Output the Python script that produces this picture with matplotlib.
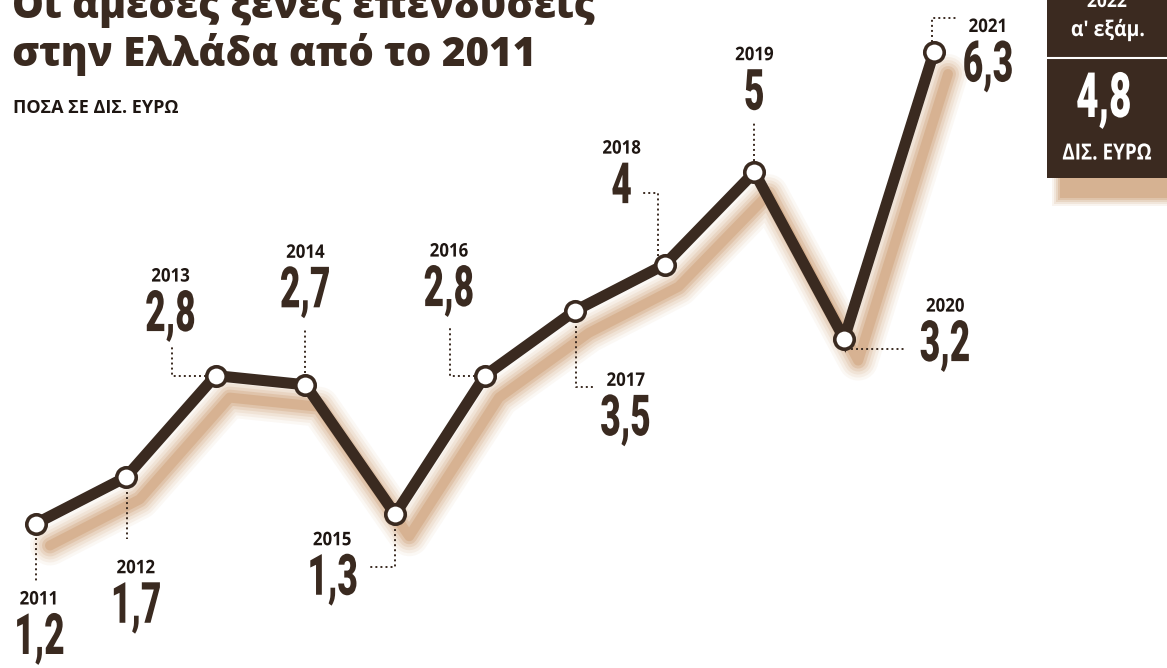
import matplotlib
matplotlib.use("Agg")
import matplotlib.pyplot as plt
import matplotlib.transforms as mtransforms
from matplotlib.patheffects import AbstractPathEffect
from matplotlib.patches import Rectangle
from matplotlib.lines import Line2D
import numpy as np

# data: foreign direct investment in Greece, bn euro
years = [2011, 2012, 2013, 2014, 2015, 2016, 2017, 2018, 2019, 2020, 2021]
values = [1.2, 1.7, 2.8, 2.7, 1.3, 2.8, 3.5, 4.0, 5.0, 3.2, 6.3]
title_1 = "Οι άμεσες ξένες επενδύσεις"
title_2 = "στην Ελλάδα από το 2011"
subtitle = "ΠΟΣΑ ΣΕ ΔΙΣ. ΕΥΡΩ"
box_year = "2022"
box_period = "α' εξάμ."
box_value = "4,8"
box_unit = "ΔΙΣ. ΕΥΡΩ"

# label placement (screen pixels, y down) relative to each marker
value_off = [(3, 115), (10, 130), (-45, -60), (0, -93), (-63, 65), (-36, -85),
             (51, 109), (-43, -77), (0, -78), (101, 7), (54, 14)]
year_gap = 39
leaders = [
    [(0, 14), (0, 57)],
    [(1, 15), (1, 62)],
    [(-10, 0), (-44, 0), (-44, -31)],
    [(0, -7), (0, -57)],
    [(0, 10), (0, 53), (-27, 53)],
    [(-10, 0), (-35, 0), (-35, -49)],
    [(1, 10), (1, 76), (20, 76)],
    [(-7, -9), (-7, -72), (-22, -72)],
    [(0, -11), (0, -51)],
    [(7, 10), (62, 10)],
    [(-2, -10), (-2, -34), (24, -34)],
]

DARK = "#3a2a20"
SHADOW = "#b8763a"
W, H = 1167, 668


class Squeeze(AbstractPathEffect):
    # narrow the glyphs horizontally (condensed look), keeps the text centre
    def __init__(self, sx):
        super().__init__()
        self.sx = sx

    def draw_path(self, renderer, gc, tpath, affine, rgbFace=None):
        ext = tpath.get_extents()
        cx = (ext.x0 + ext.x1) / 2
        t = mtransforms.Affine2D().translate(-cx, 0).scale(self.sx, 1).translate(cx, 0) + affine
        renderer.draw_path(gc, tpath, t, rgbFace)


fig = plt.figure(figsize=(W / 100, H / 100), dpi=100)
fig.patch.set_facecolor("white")
ax = fig.add_axes([0, 0, 1, 1])
ax.set_xlim(2011 - 36 / 89.8, 2011 + (W - 36) / 89.8)
ax.set_ylim(1.2 - 144.5 / 92.45, 1.2 + 523.5 / 92.45)
ax.axis("off")

def fx(x):
    return x / W

def fy(y):
    return 1 - y / H

# soft shadow under the line
sh = mtransforms.offset_copy(ax.transData, fig=fig, x=14, y=-22, units="dots")
for lw, a in [(40, 0.05), (34, 0.07), (28, 0.09), (22, 0.12), (16, 0.17), (10, 0.22)]:
    ax.plot(years, values, color=SHADOW, lw=lw * 0.72, alpha=a,
            solid_capstyle="round", solid_joinstyle="round", transform=sh, zorder=1)

ax.plot(years, values, color=DARK, lw=8, solid_joinstyle="miter", zorder=3)
ax.plot(years, values, ls="none", marker="o", ms=14, mfc="white", mec=DARK,
        mew=2.6, zorder=4)

num_font = ["Roboto", "DejaVu Sans"]
lab_font = ["Open Sans", "DejaVu Sans"]
narrow = [Squeeze(0.62)]

inv = ax.transData.inverted()
for i, (yr, v) in enumerate(zip(years, values)):
    px0, py0 = ax.transData.transform((yr, v))
    # dotted leader
    pts = np.array([inv.transform((px0 + dx, py0 - dy)) for dx, dy in leaders[i]])
    ax.plot(pts[:, 0], pts[:, 1], color=DARK, lw=1.4, ls=(0, (1, 1.6)), zorder=2)
    txt = f"{v:.1f}".replace(".", ",") if v != int(v) else str(int(v))
    dx, dy = value_off[i]
    ax.annotate(txt, (yr, v), xytext=(dx, -dy), textcoords="offset pixels",
                ha="center", va="center", fontsize=41, fontweight="black",
                family=num_font, color=DARK, zorder=5, path_effects=narrow)
    ax.annotate(str(yr), (yr, v), xytext=(dx, -dy + year_gap), textcoords="offset pixels",
                ha="center", va="center", fontsize=13.5, fontweight="bold",
                family=lab_font, color="#1e1612", zorder=5, path_effects=[Squeeze(0.9)])

# title and subtitle
fig.text(fx(12), fy(18), title_1, fontsize=29, fontweight="heavy", family=lab_font,
         color=DARK, va="baseline", ha="left")
fig.text(fx(12), fy(66), title_2, fontsize=29, fontweight="heavy", family=lab_font,
         color=DARK, va="baseline", ha="left")
fig.text(fx(13), fy(113), subtitle, fontsize=13, fontweight="bold", family=lab_font,
         color="#1e1612", va="baseline", ha="left")

# box at the top right with its shadow
for k, a in enumerate([0.08, 0.11, 0.14, 0.18, 0.22]):
    g = 8 - 2 * k
    fig.patches.append(Rectangle((fx(1060 - g), fy(198 + g)), fx(W - 1060 + 2 * g),
                                 fy(0) - fy(40 + 2 * g), transform=fig.transFigure,
                                 color=SHADOW, alpha=a, lw=0, zorder=0))
fig.patches.append(Rectangle((fx(1047), fy(178)), fx(W - 1047), fy(0) - fy(178),
                             transform=fig.transFigure, color="#3b2a20", lw=0, zorder=1))
fig.add_artist(Line2D([fx(1047), fx(W)], [fy(58), fy(58)], color="white", lw=1.5,
                      transform=fig.transFigure, zorder=2))
fig.text(fx(1107), fy(2), box_year, fontsize=14, fontweight="bold", family=lab_font,
         color="white", ha="center", va="center", path_effects=[Squeeze(0.9)])
fig.text(fx(1108), fy(30), box_period, fontsize=15.5, fontweight="bold", family=lab_font,
         color="white", ha="center", va="center", path_effects=[Squeeze(0.9)])
fig.text(fx(1104), fy(100), box_value, fontsize=45, fontweight="black", family=num_font,
         color="white", ha="center", va="center", path_effects=narrow)
fig.text(fx(1107), fy(154), box_unit, fontsize=16, fontweight="bold", family=lab_font,
         color="white", ha="center", va="center", path_effects=[Squeeze(0.85)])

fig.savefig("out.png", dpi=100, facecolor="white")
